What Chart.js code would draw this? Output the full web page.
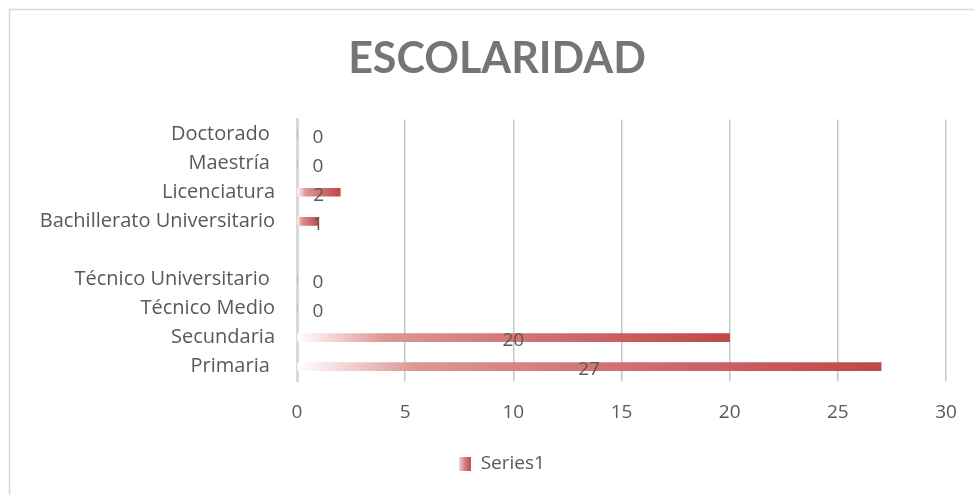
<!DOCTYPE html>
<html>
<head>
<meta charset="utf-8">
<script src="https://cdn.jsdelivr.net/npm/chart.js@4/dist/chart.umd.min.js"></script>
<style>
  html, body { margin: 0; padding: 0; background: #fff; }
  #wrap { width: 974px; height: 495px; position: relative; }
</style>
</head>
<body>
<div id="wrap"><canvas id="grafico" width="974" height="495"></canvas></div>
<script>
// datos (orden de Excel: de abajo hacia arriba)
const categorias = ["Primaria ", "Secundaria", "Técnico Medio", "Técnico Universitario ", "", "Bachillerato Universitario", "Licenciatura", "Maestría ", "Doctorado "];
const valores = [27, 20, 0, 0, null, 1, 2, 0, 0];
const ticksX = [0, 5, 10, 15, 20, 25, 30];
const nombreSerie = "Series1";

const gris = "#595959";
const fuente = "'Open Sans', sans-serif";

// 👉 degradado blanco -> rojo a lo largo de cada barra
function degradado(ctx2d, x0, x1) {
  const g = ctx2d.createLinearGradient(x0, 0, Math.max(x1, x0 + 1), 0);
  g.addColorStop(0, "rgba(255,255,255,1)");
  g.addColorStop(0.06, "#f7e0e0");
  g.addColorStop(0.2, "#dc9797");
  g.addColorStop(0.5, "#d37575");
  g.addColorStop(1, "#c0474a");
  return g;
}

// 👉 cuadrito de la leyenda con el mismo degradado
const cuadro = document.createElement("canvas");
cuadro.width = 12;
cuadro.height = 14;
const cctx = cuadro.getContext("2d");
const gc = cctx.createLinearGradient(0, 0, 12, 0);
gc.addColorStop(0, "#f4d6d6");
gc.addColorStop(0.5, "#d57a7a");
gc.addColorStop(1, "#c0474a");
cctx.fillStyle = gc;
cctx.fillRect(0, 0, 12, 14);

// 👉 fondo y marco
const marco = {
  id: "marco",
  beforeDraw(chart) {
    const c = chart.ctx;
    c.save();
    c.fillStyle = "#fff";
    c.fillRect(0, 0, chart.width, chart.height);
    c.strokeStyle = "#d9d9d9";
    c.lineWidth = 1.5;
    c.beginPath();
    c.moveTo(9.5, chart.height);
    c.lineTo(9.5, 9.5);
    c.lineTo(chart.width, 9.5);
    c.stroke();
    c.restore();
  }
};

// 👉 mover título y leyenda un poco a la derecha (como en Excel)
const desplazar = {
  id: "desplazar",
  afterLayout(chart) {
    [[chart.titleBlock, 19], [chart.legend, 24]].forEach(([b, d]) => {
      if (!b) return;
      b.left += d;
      b.right += d;
    });
  }
};

// 👉 etiquetas de datos
const etiquetas = {
  id: "etiquetas",
  afterDatasetsDraw(chart) {
    const c = chart.ctx;
    const meta = chart.getDatasetMeta(0);
    const x0 = chart.scales.x.getPixelForValue(0);
    c.save();
    c.font = "19px " + fuente;
    c.fillStyle = gris;
    c.textAlign = "center";
    c.textBaseline = "middle";
    meta.data.forEach((bar, i) => {
      const v = valores[i];
      if (v === null) return;
      const x = Math.max((x0 + bar.x) / 2, x0 + 21);
      c.fillText(String(v), x, bar.y + 3);
    });
    c.restore();
  }
};

const grafico = new Chart(document.getElementById("grafico"), {
  type: "bar",
  data: {
    labels: categorias,
    datasets: [{
      label: nombreSerie,
      data: valores,
      barThickness: 8,
      backgroundColor(ctx) {
        const chart = ctx.chart;
        if (!chart.chartArea || !chart.scales.x) return "#c0504d";
        const x0 = chart.scales.x.getPixelForValue(0);
        const x1 = chart.scales.x.getPixelForValue(ctx.raw || 0);
        return degradado(chart.ctx, x0, x1);
      }
    }]
  },
  options: {
    indexAxis: "y",
    responsive: false,
    animation: false,
    layout: { padding: { left: 10, right: 28, top: 0, bottom: 12 } },
    plugins: {
      title: {
        display: true,
        text: "ESCOLARIDAD",
        color: "#757575",
        font: { family: "Lato, sans-serif", size: 43, weight: "bold" },
        padding: { top: 33, bottom: 35 }
      },
      legend: {
        position: "bottom",
        labels: {
          color: gris,
          font: { family: fuente, size: 19 },
          usePointStyle: true,
          boxWidth: 12,
          boxHeight: 14,
          padding: 10,
          generateLabels() {
            return [{
              text: nombreSerie,
              pointStyle: cuadro,
              fillStyle: "#c0504d",
              strokeStyle: "rgba(0,0,0,0)",
              lineWidth: 0,
              fontColor: gris,
              datasetIndex: 0
            }];
          }
        }
      },
      tooltip: { enabled: false }
    },
    scales: {
      x: {
        min: 0,
        max: 30,
        afterBuildTicks(scale) { scale.ticks = ticksX.map(v => ({ value: v })); },
        afterFit(scale) { scale.paddingRight = 0; scale.paddingLeft = 0; },
        grid: { color: "#c6c6c6", lineWidth: 1.5, drawTicks: false },
        border: { display: false },
        ticks: { color: gris, font: { family: fuente, size: 19 }, padding: 20 }
      },
      y: {
        reverse: true,
        grid: { display: false, drawTicks: false },
        border: { display: true, color: "#d9d9d9", width: 3 },
        ticks: { color: gris, font: { family: fuente, size: 20 }, padding: 22, autoSkip: false },
        afterFit(scale) { scale.width = 287; }
      }
    }
  },
  plugins: [marco, desplazar, etiquetas]
});
</script>
</body>
</html>
